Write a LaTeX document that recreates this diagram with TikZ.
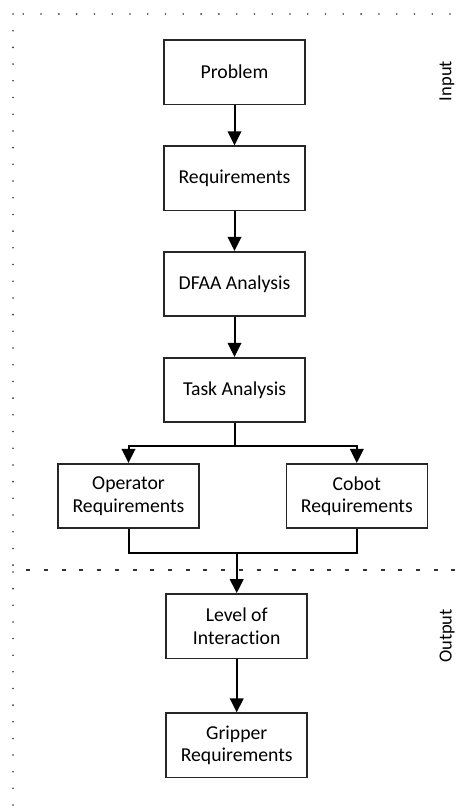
\documentclass[tikz,border=0pt]{standalone}
\usepackage{fontspec}
\setmainfont{Carlito}[Ligatures=NoCommon]
\usetikzlibrary{arrows.meta}
\begin{document}
\begin{tikzpicture}[x=1bp,y=-1bp,
  box/.style={draw=black!85,line width=1.6bp,minimum width=141bp,minimum height=64.5bp,
    align=center,font=\fontsize{19.7bp}{22.5bp}\selectfont,inner sep=0pt},
  conn/.style={line width=2bp},
  arr/.style={conn,-{Triangle[length=14bp,width=13.5bp]}},
  dotmark/.style={fill=black!80},
  lbl/.style={font=\fontsize{18.5bp}{21bp}\selectfont,rotate=90}]
\useasboundingbox (0,0) rectangle (463,808);
% dotted frame
\fill[dotmark] (13,14) circle (0.9bp);
\foreach \k in {0,...,24} \fill[dotmark] (23.3+17.78*\k,14) circle (0.9bp);
\foreach \k in {1,...,33} \fill[dotmark] (13,14+16.7*\k) circle (0.9bp);
\foreach \k in {0,...,14} \fill[dotmark] (13,572+16.64*\k) circle (0.9bp);
\foreach \k in {0,...,24} \draw[black!80,line width=1.3bp] (26.3+17.71*\k,570) -- ++(4,0);
% boxes
\node[box] (prob) at (234.5,72.2) {Problem};
\node[box] (req) at (234.5,178.4) {Requirements};
\node[box] (dfaa) at (234.5,284) {DFAA Analysis};
\node[box] (task) at (234.5,390) {Task Analysis};
\node[box] (op) at (128.5,496) {Operator\\Requirements};
\node[box] (cob) at (356.8,496) {Cobot\\Requirements};
\node[box] (lvl) at (236.7,626.2) {Level of\\Interaction};
\node[box] (grip) at (236.7,745.4) {Gripper\\Requirements};
% labels
\node[lbl] (in) at (447,81) {Input};
\node[lbl] (out) at (447,636) {Output};
% connectors
\draw[arr] (prob) -- (req);
\draw[arr] (req) -- (dfaa);
\draw[arr] (dfaa) -- (task);
\coordinate (split) at (234.5,446);
\coordinate (join) at (236.7,553);
\draw[conn] (task) -- (split);
\draw[arr] (split) -| (op);
\draw[arr] (split) -| (cob);
\draw[conn] (op) |- (join) -| (cob);
\draw[arr] (join) -- (lvl);
\draw[arr] (lvl) -- (grip);
\end{tikzpicture}
\end{document}
